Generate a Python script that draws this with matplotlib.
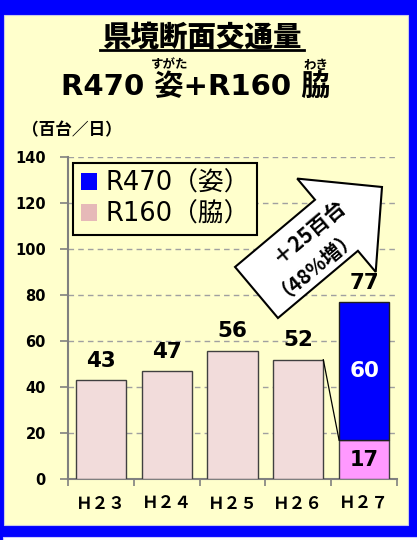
import matplotlib
matplotlib.use("Agg")
import matplotlib.pyplot as plt
import matplotlib.patches as mpatches
import matplotlib.transforms as mtransforms

# --- DATA ---
years = ["Ｈ２３", "Ｈ２４", "Ｈ２５", "Ｈ２６", "Ｈ２７"]
r160 = [43, 47, 56, 52, 17]     # R160 (脇)
r470 = [0, 0, 0, 0, 60]         # R470 (姿)
yticks = [0, 20, 40, 60, 80, 100, 120, 140]

# --- COLOURS ---
BLUE = "#0000FF"
PANEL = "#FFFFCC"
PINK_OLD = "#F2DCDB"
PINK_NEW = "#FF99FF"
CJK = ["DejaVu Sans", "Noto Sans CJK JP"]
JP = ["Noto Sans CJK JP", "DejaVu Sans"]

W, H = 417, 540
fig = plt.figure(figsize=(W / 100, H / 100), dpi=100)
fig.patch.set_facecolor(BLUE)

# pixel transform (origin bottom-left)
px = mtransforms.Affine2D().scale(1 / W, 1 / H) + fig.transFigure

def top(y):
    return H - y

# panel + bottom strip
fig.add_artist(mpatches.Rectangle((4, top(525)), 404, 510, transform=px,
                                  facecolor=PANEL, edgecolor="#C8C8E8", lw=0.8, zorder=0))
fig.add_artist(mpatches.Rectangle((3, 0), 414, 3, transform=px,
                                  facecolor="white", edgecolor="#C8C8FF", lw=0.8, zorder=0))

# --- AXES ---
ax = fig.add_axes([68 / W, top(479.3) / H, (397 - 68) / W, (479.3 - 157.3) / H])
ax.set_facecolor("none")
x = list(range(len(years)))
bw = 0.76

old = [v if r == 0 else 0 for v, r in zip(r160, r470)]
new_low = [v if r > 0 else 0 for v, r in zip(r160, r470)]
ax.bar(x[:4], old[:4], width=bw, color=PINK_OLD, edgecolor="#404040", lw=1, zorder=3)
ax.bar(x[4], new_low[4], width=bw, color=PINK_NEW, edgecolor="#404040", lw=1, zorder=3)
ax.bar(x[4], r470[4], bottom=new_low[4], width=bw, color=BLUE, edgecolor="#202020", lw=1, zorder=3)

# connector line H26 -> H27 split
ax.plot([x[3] + bw / 2, x[4] - bw / 2], [r160[3], r160[4]], color="black", lw=0.9, zorder=4)

ax.set_ylim(0, 140)
ax.set_xlim(-0.5, len(years) - 0.5)
ax.set_yticks(yticks)
ax.set_yticklabels([str(t) for t in yticks], fontsize=10.5, fontweight="bold")
ax.set_xticks(x)
ax.set_xticklabels(years, family=JP, fontsize=12, fontweight="bold")
ax.set_xticks([i - 0.5 for i in range(len(years) + 1)], minor=True)
ax.tick_params(axis="x", which="major", length=0, pad=11)
ax.tick_params(axis="x", which="minor", length=5, color="#808080", width=1.2)
ax.tick_params(axis="y", length=6, color="#808080", width=1.2, pad=10)
for s in ["top", "right"]:
    ax.spines[s].set_visible(False)
for s in ["left", "bottom"]:
    ax.spines[s].set_color("#808080")
    ax.spines[s].set_linewidth(1.5)
ax.yaxis.grid(True, linestyle=(0, (4, 3)), color="#A0A0A0", lw=1)
ax.set_axisbelow(True)

# value labels
for i in x:
    total = r160[i] + r470[i]
    ax.annotate(str(total), (i, total), xytext=(0, 14), textcoords="offset points",
                ha="center", va="center", fontsize=15.5, fontweight="bold", zorder=6)
ax.text(x[4], new_low[4] + r470[4] / 2, str(r470[4]), ha="center", va="center",
        fontsize=15.5, fontweight="bold", color="white", zorder=6)
ax.text(x[4], new_low[4] / 2, str(new_low[4]), ha="center", va="center",
        fontsize=15, fontweight="bold", color="black", zorder=6)

# legend
handles = [mpatches.Patch(facecolor=BLUE, edgecolor="none", label="R470（姿）"),
           mpatches.Patch(facecolor="#E6B9B8", edgecolor="none", label="R160（脇）")]
leg = ax.legend(handles=handles, loc="upper left", bbox_to_anchor=(73 / W, top(162.7) / H),
                bbox_transform=fig.transFigure, borderaxespad=0, fancybox=False,
                framealpha=1, facecolor=PANEL, edgecolor="black",
                prop={"family": CJK, "size": 18.5}, handlelength=0.65, handleheight=0.65,
                handletextpad=0.3, labelspacing=0.2, borderpad=0.3)
leg.get_frame().set_linewidth(1.5)
leg.set_zorder(7)

# --- TITLES ---
fig.text(202 / W, top(37) / H, "県境断面交通量", family=JP, fontsize=20.5, fontweight="heavy",
         ha="center", va="center")
fig.add_artist(plt.Line2D([100, 304], [top(50), top(50)], transform=px, color="black", lw=2))

sub_props = dict(family=CJK, fontsize=21, fontweight="bold")
subtitle = "R470 姿+R160 脇"
renderer = fig.canvas.get_renderer()

def text_width(s):
    t = fig.text(0, 0, s, **sub_props)
    w = t.get_window_extent(renderer).width
    t.remove()
    return w

sub_left = 196 - text_width(subtitle) / 2
fig.text(sub_left / W, top(88) / H, subtitle, ha="left", va="center", **sub_props)

# furigana centred over 姿 and 脇
for base, ruby in [("R470 ", "すがた"), ("R470 姿+R160 ", "わき")]:
    x0 = sub_left + text_width(base + "姿") - text_width("姿") / 2
    fig.text(x0 / W, top(65) / H, ruby, family=JP, fontsize=9, fontweight="bold",
             ha="center", va="center")

fig.text(71.5 / W, top(130) / H, "（百台／日）", family=JP, fontsize=12, fontweight="bold",
         ha="center", va="center")

# --- BIG ARROW ---
arrow = mpatches.FancyArrow(256.5, top(292.5), 125.5, 105.5, width=66.7, head_width=122,
                            head_length=59.5, length_includes_head=True, transform=px,
                            facecolor="white", edgecolor="black", lw=1.5, zorder=8)
fig.add_artist(arrow)
fig.text(309 / W, top(231) / H, "＋25百台", family=JP, fontsize=15, fontweight="bold",
         rotation=40, rotation_mode="anchor", ha="center", va="center", zorder=9)
fig.text(313 / W, top(259) / H, "（48%増）", family=JP, fontsize=14.5, fontweight="bold",
         rotation=40, rotation_mode="anchor", ha="center", va="center", zorder=9)

fig.savefig("out.png", dpi=100, facecolor=fig.get_facecolor())
